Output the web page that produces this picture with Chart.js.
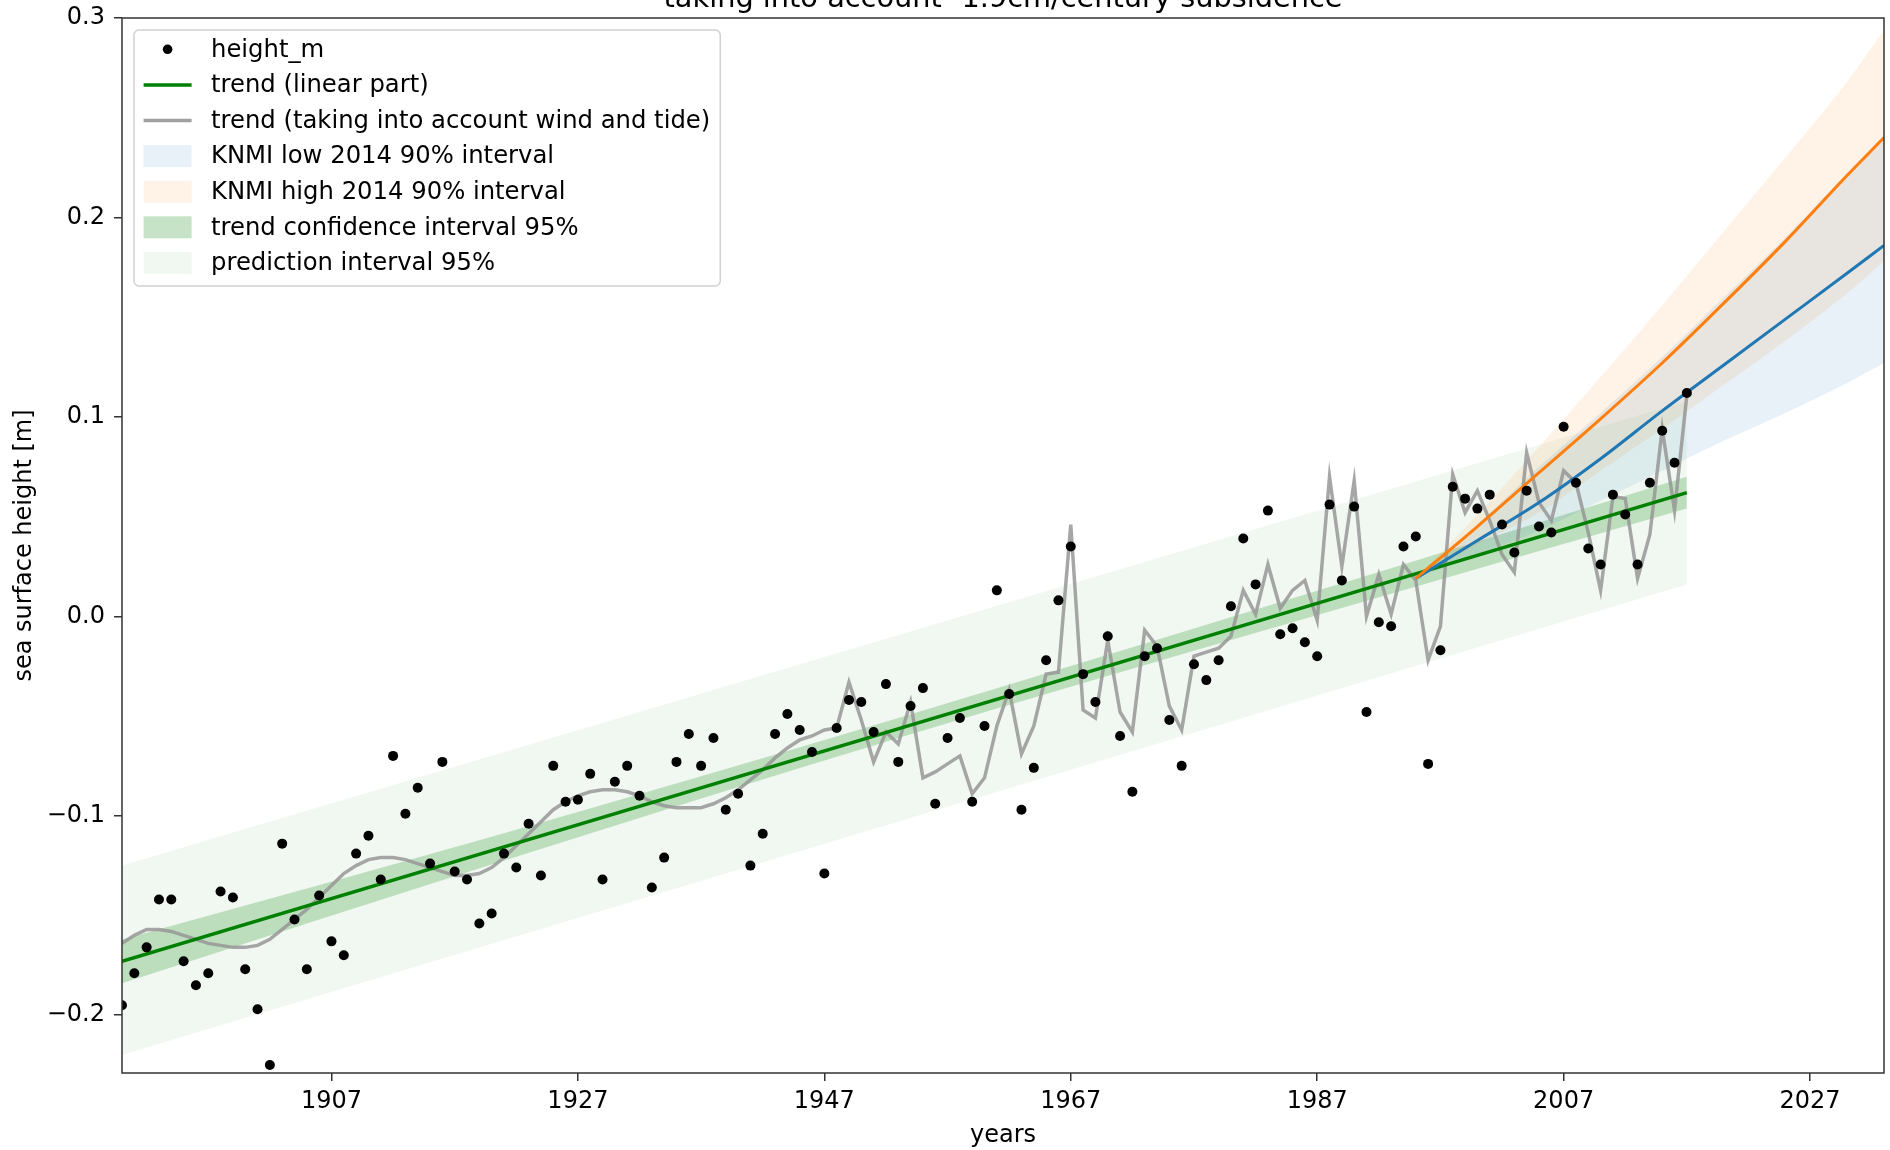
<!DOCTYPE html>
<html lang="en">
<head>
  <meta charset="UTF-8" />
  <title>Sea surface height</title>
  <script src="https://cdn.jsdelivr.net/npm/chart.js"></script>
  <style>
    body {
      margin: 0;
      background: #ffffff;
    }
    #wrap {
      width: 1890px;
      height: 1150px;
      position: relative;
    }
  </style>
</head>
<body>
  <div id="wrap"><canvas id="seaChart"></canvas></div>

  <script>
    // yearly observations
    const years = [
      1890, 1891, 1892, 1893, 1894, 1895, 1896, 1897, 1898, 1899,
      1900, 1901, 1902, 1903, 1904, 1905, 1906, 1907, 1908, 1909,
      1910, 1911, 1912, 1913, 1914, 1915, 1916, 1917, 1918, 1919,
      1920, 1921, 1922, 1923, 1924, 1925, 1926, 1927, 1928, 1929,
      1930, 1931, 1932, 1933, 1934, 1935, 1936, 1937, 1938, 1939,
      1940, 1941, 1942, 1943, 1944, 1945, 1946, 1947, 1948, 1949,
      1950, 1951, 1952, 1953, 1954, 1955, 1956, 1957, 1958, 1959,
      1960, 1961, 1962, 1963, 1964, 1965, 1966, 1967, 1968, 1969,
      1970, 1971, 1972, 1973, 1974, 1975, 1976, 1977, 1978, 1979,
      1980, 1981, 1982, 1983, 1984, 1985, 1986, 1987, 1988, 1989,
      1990, 1991, 1992, 1993, 1994, 1995, 1996, 1997, 1998, 1999,
      2000, 2001, 2002, 2003, 2004, 2005, 2006, 2007, 2008, 2009,
      2010, 2011, 2012, 2013, 2014, 2015, 2016, 2017
    ];

    const heightM = [
      -0.195, -0.179, -0.166, -0.142, -0.142, -0.173, -0.185, -0.179, -0.138, -0.141,
      -0.177, -0.197, -0.225, -0.114, -0.152, -0.177, -0.140, -0.163, -0.170, -0.119,
      -0.110, -0.132, -0.070, -0.099, -0.086, -0.124, -0.073, -0.128, -0.132, -0.154,
      -0.149, -0.119, -0.126, -0.104, -0.130, -0.075, -0.093, -0.092, -0.079, -0.132,
      -0.083, -0.075, -0.090, -0.136, -0.121, -0.073, -0.059, -0.075, -0.061, -0.097,
      -0.089, -0.125, -0.109, -0.059, -0.049, -0.057, -0.068, -0.129, -0.056, -0.042,
      -0.043, -0.058, -0.034, -0.073, -0.045, -0.036, -0.094, -0.061, -0.051, -0.093,
      -0.055, 0.013, -0.039, -0.097, -0.076, -0.022, 0.008, 0.035, -0.029, -0.043,
      -0.010, -0.060, -0.088, -0.020, -0.016, -0.052, -0.075, -0.024, -0.032, -0.022,
      0.005, 0.039, 0.016, 0.053, -0.009, -0.006, -0.013, -0.020, 0.056, 0.018,
      0.055, -0.048, -0.003, -0.005, 0.035, 0.040, -0.074, -0.017, 0.065, 0.059,
      0.054, 0.061, 0.046, 0.032, 0.063, 0.045, 0.042, 0.095, 0.067, 0.034,
      0.026, 0.061, 0.051, 0.026, 0.067, 0.093, 0.077, 0.112
    ];

    // model with nodal tide and wind
    const windTide = [
      -0.164, -0.160, -0.157, -0.157, -0.158, -0.160, -0.162, -0.164, -0.165, -0.166,
      -0.166, -0.165, -0.162, -0.157, -0.152, -0.147, -0.141, -0.135, -0.129, -0.125,
      -0.122, -0.121, -0.121, -0.122, -0.124, -0.126, -0.128, -0.130, -0.130, -0.129,
      -0.126, -0.121, -0.115, -0.109, -0.103, -0.097, -0.093, -0.090, -0.088, -0.087,
      -0.087, -0.088, -0.090, -0.093, -0.095, -0.096, -0.096, -0.096, -0.094, -0.091,
      -0.087, -0.082, -0.077, -0.071, -0.066, -0.062, -0.060, -0.057, -0.056, -0.033,
      -0.052, -0.073, -0.058, -0.064, -0.043, -0.081, -0.078, -0.074, -0.070, -0.089,
      -0.081, -0.055, -0.037, -0.069, -0.055, -0.029, -0.028, 0.046, -0.047, -0.051,
      -0.012, -0.048, -0.058, -0.007, -0.015, -0.045, -0.057, -0.020, -0.018, -0.016,
      -0.010, 0.013, 0.001, 0.026, 0.004, 0.013, 0.018, -0.002, 0.070, 0.025,
      0.068, 0.000, 0.021, 0.001, 0.026, 0.018, -0.022, -0.005, 0.071, 0.052,
      0.063, 0.048, 0.031, 0.022, 0.082, 0.057, 0.048, 0.073, 0.067, 0.042,
      0.013, 0.060, 0.059, 0.019, 0.041, 0.094, 0.053, 0.111
    ];

    // linear trend and its intervals
    const trendYears = [1890, 2017];
    const trendLinear = [-0.173, 0.062];
    const predLower = [-0.220, 0.016];
    const predUpper = [-0.125, 0.108];

    const ciYears = [1890, 1920, 1953, 1985, 2017];
    const ciLower = [-0.184, -0.1245, -0.061, -0.003, 0.054];
    const ciUpper = [-0.162, -0.1105, -0.051, 0.009, 0.070];

    // KNMI 2014 scenarios
    const knmiYears = [1995, 2000, 2005, 2010, 2015, 2020, 2025, 2030, 2033];
    const knmiLowMid = [0.019, 0.038, 0.057, 0.079, 0.103, 0.126, 0.149, 0.172, 0.186];
    const knmiLowLower = [0.019, 0.031, 0.043, 0.058, 0.073, 0.088, 0.102, 0.117, 0.127];
    const knmiLowUpper = [0.019, 0.046, 0.075, 0.102, 0.130, 0.160, 0.190, 0.222, 0.240];
    const knmiHighMid = [0.019, 0.045, 0.072, 0.099, 0.127, 0.157, 0.188, 0.221, 0.240];
    const knmiHighLower = [0.019, 0.036, 0.052, 0.073, 0.094, 0.116, 0.138, 0.162, 0.178];
    const knmiHighUpper = [0.019, 0.051, 0.085, 0.120, 0.156, 0.193, 0.230, 0.268, 0.294];

    const xTickYears = [1907, 1927, 1947, 1967, 1987, 2007, 2027];
    const yTickValues = [-0.2, -0.1, 0.0, 0.1, 0.2, 0.3];

    const titleText = 'taking into account -1.9cm/century subsidence';

    const legendItems = [
      { label: 'height_m', kind: 'dot', color: '#000000' },
      { label: 'trend (linear part)', kind: 'line', color: '#008000' },
      { label: 'trend (taking into account wind and tide)', kind: 'line', color: '#a0a0a0' },
      { label: 'KNMI low 2014 90% interval', kind: 'patch', color: 'rgba(31,119,180,0.1)' },
      { label: 'KNMI high 2014 90% interval', kind: 'patch', color: 'rgba(255,127,14,0.1)' },
      { label: 'trend confidence interval 95%', kind: 'patch', color: 'rgba(0,128,0,0.22)' },
      { label: 'prediction interval 95%', kind: 'patch', color: 'rgba(0,128,0,0.055)' }
    ];

    const pts = (xs, ys) => xs.map((x, i) => ({ x: x, y: ys[i] }));

    function band(xs, ys, color, order, fill, smooth) {
      return {
        data: pts(xs, ys),
        borderColor: 'transparent',
        borderWidth: 0,
        pointRadius: 0,
        backgroundColor: color,
        fill: fill,
        cubicInterpolationMode: smooth ? 'monotone' : 'default',
        tension: 0,
        order: order
      };
    }

    function line(xs, ys, color, width, order, smooth) {
      return {
        data: pts(xs, ys),
        borderColor: color,
        borderWidth: width,
        pointRadius: 0,
        fill: false,
        cubicInterpolationMode: smooth ? 'monotone' : 'default',
        tension: 0,
        order: order
      };
    }

    // frame, cut-off title and matplotlib-like legend box
    const decorations = {
      id: 'decorations',
      afterDraw(chart) {
        const ctx = chart.ctx;
        const a = chart.chartArea;
        ctx.save();

        ctx.strokeStyle = '#333333';
        ctx.lineWidth = 1.5;
        ctx.strokeRect(a.left, a.top, a.right - a.left, a.bottom - a.top);

        ctx.fillStyle = '#000000';
        ctx.font = '28.8px "DejaVu Sans"';
        ctx.textAlign = 'center';
        ctx.textBaseline = 'alphabetic';
        ctx.fillText(titleText, (a.left + a.right) / 2, 7);

        ctx.font = '24.3px "DejaVu Sans"';
        const x0 = a.left + 12;
        const y0 = a.top + 12;
        const handleX = x0 + 9.6;
        const textX = handleX + 48 + 19.4;
        let w = 0;
        legendItems.forEach(it => { w = Math.max(w, ctx.measureText(it.label).width); });
        const bw = textX - x0 + w + 10;
        const bh = 256;
        ctx.beginPath();
        ctx.roundRect(x0, y0, bw, bh, 5);
        ctx.fillStyle = 'rgba(255,255,255,0.8)';
        ctx.fill();
        ctx.strokeStyle = 'rgba(204,204,204,0.9)';
        ctx.lineWidth = 1.5;
        ctx.stroke();

        ctx.textAlign = 'left';
        ctx.textBaseline = 'middle';
        legendItems.forEach((it, i) => {
          const cy = y0 + 19.3 + i * 35.6;
          if (it.kind === 'dot') {
            ctx.beginPath();
            ctx.arc(handleX + 24, cy, 4.8, 0, Math.PI * 2);
            ctx.fillStyle = it.color;
            ctx.fill();
          } else if (it.kind === 'line') {
            ctx.beginPath();
            ctx.moveTo(handleX, cy);
            ctx.lineTo(handleX + 48, cy);
            ctx.strokeStyle = it.color;
            ctx.lineWidth = 3.5;
            ctx.stroke();
          } else {
            ctx.fillStyle = it.color;
            ctx.fillRect(handleX, cy - 11, 48, 22);
          }
          ctx.fillStyle = '#000000';
          ctx.fillText(it.label, textX, cy + 1);
        });
        ctx.restore();
      }
    };

    Chart.defaults.font.family = '"DejaVu Sans", sans-serif';
    Chart.defaults.font.size = 24;
    Chart.defaults.color = '#000000';

    const ctx = document.getElementById('seaChart').getContext('2d');

    new Chart(ctx, {
      type: 'line',
      data: {
        datasets: [
          band(trendYears, predLower, 'transparent', 10, false),
          band(trendYears, predUpper, 'rgba(0,128,0,0.055)', 10, '-1'),
          band(ciYears, ciLower, 'transparent', 9, false, true),
          band(ciYears, ciUpper, 'rgba(0,128,0,0.22)', 9, '-1', true),
          band(knmiYears, knmiLowLower, 'transparent', 8, false, true),
          band(knmiYears, knmiLowUpper, 'rgba(31,119,180,0.1)', 8, '-1', true),
          band(knmiYears, knmiHighLower, 'transparent', 8, false, true),
          band(knmiYears, knmiHighUpper, 'rgba(255,127,14,0.1)', 8, '-1', true),
          line(years, windTide, 'rgba(150,150,150,0.85)', 3.5, 5),
          line(trendYears, trendLinear, '#008000', 3.5, 4),
          line(knmiYears, knmiHighMid, '#ff7f0e', 3, 3, true),
          line(knmiYears, knmiLowMid, '#1f77b4', 3, 3, true),
          {
            data: pts(years, heightM),
            showLine: false,
            pointRadius: 5,
            pointBackgroundColor: '#000000',
            pointBorderWidth: 0,
            order: 0
          }
        ]
      },
      options: {
        responsive: true,
        maintainAspectRatio: false,
        animation: false,
        events: [],
        layout: {
          padding: { top: 18, right: 6, left: 0, bottom: 0 }
        },
        plugins: {
          legend: { display: false },
          tooltip: { enabled: false },
          title: { display: false }
        },
        scales: {
          x: {
            type: 'linear',
            min: 1890,
            max: 2033,
            afterFit: s => { s.height = 77; },
            afterBuildTicks: s => { s.ticks = xTickYears.map(v => ({ value: v })); },
            ticks: {
              padding: 6,
              maxRotation: 0,
              callback: v => String(v)
            },
            grid: {
              drawOnChartArea: false,
              color: '#333333',
              lineWidth: 1.5,
              tickLength: 8
            },
            border: { display: false },
            title: {
              display: true,
              text: 'years',
              padding: { top: 0, bottom: 0 }
            }
          },
          y: {
            min: -0.229,
            max: 0.3,
            afterFit: s => { s.width = 122; },
            afterBuildTicks: s => { s.ticks = yTickValues.map(v => ({ value: v })); },
            ticks: {
              padding: 9,
              font: { lineHeight: 0.7 },
              callback: v => (v < -1e-9 ? '\u2212' : '') + Math.abs(v).toFixed(1)
            },
            grid: {
              drawOnChartArea: false,
              color: '#333333',
              lineWidth: 1.5,
              tickLength: 8
            },
            border: { display: false },
            title: {
              display: true,
              text: 'sea surface height [m]',
              padding: { top: 10, bottom: 0 }
            }
          }
        }
      },
      plugins: [decorations]
    });
  </script>
</body>
</html>
